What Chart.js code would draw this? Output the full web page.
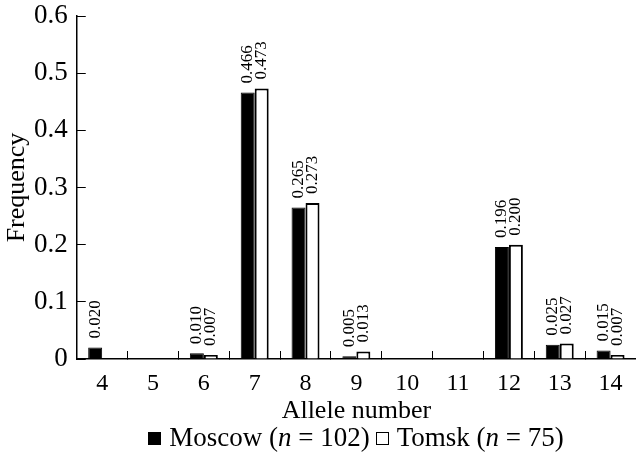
<!DOCTYPE html>
<html>
<head>
<meta charset="utf-8">
<script src="https://cdn.jsdelivr.net/npm/chart.js@4.4.1/dist/chart.umd.min.js"></script>
<style>
  body { margin: 0; background: #fff; }
  #wrap { position: relative; width: 636px; height: 454px; }
  #legend {
    position: absolute; left: 0; width: 636px; top: 422px;
    text-align: center; font-family: "Liberation Serif", serif; font-size: 27px; color: #000;
    padding-left: 76px; box-sizing: border-box; white-space: nowrap; line-height: 30px;
  }
  .box { display: inline-block; width: 13px; height: 13px; margin-right: 8px; box-sizing: border-box; vertical-align: 1px; }
  .item { margin: 0 3px; }
</style>
</head>
<body>
<div id="wrap">
  <canvas id="alleleChart" width="636" height="454"></canvas>
  <div id="legend"></div>
</div>
<script>
// Allele frequency data
const alleles = ['4', '5', '6', '7', '8', '9', '10', '11', '12', '13', '14'];
const moscow = [0.020, 0, 0.010, 0.466, 0.265, 0.005, 0, 0, 0.196, 0.025, 0.015];
const tomsk = [0, 0, 0.007, 0.473, 0.273, 0.013, 0, 0, 0.200, 0.027, 0.007];
const yTicks = [0, 0.1, 0.2, 0.3, 0.4, 0.5, 0.6];

const serif = '"Liberation Serif", "DejaVu Serif", serif';

// value labels written vertically above each bar
const barLabels = {
    id: 'barLabels',
    afterDatasetsDraw(chart) {
        const ctx = chart.ctx;
        ctx.save();
        ctx.fillStyle = '#000';
        ctx.font = '17px ' + serif;
        ctx.textAlign = 'left';
        ctx.textBaseline = 'middle';
        chart.data.datasets.forEach((ds, i) => {
            chart.getDatasetMeta(i).data.forEach((bar, j) => {
                const v = ds.data[j];
                if (!v) return;
                ctx.save();
                ctx.translate(bar.x, bar.y - 9);
                ctx.rotate(-Math.PI / 2);
                ctx.fillText(v.toFixed(3), 0, 0);
                ctx.restore();
            });
        });
        ctx.restore();
    }
};

const ctx = document.getElementById('alleleChart').getContext('2d');
const chart = new Chart(ctx, {
    type: 'bar',
    data: {
        labels: alleles,
        datasets: [{
            label: 'Moscow',
            n: 102,
            data: moscow,
            backgroundColor: '#000',
            borderColor: '#000',
            borderWidth: 1
        }, {
            label: 'Tomsk',
            n: 75,
            data: tomsk,
            backgroundColor: '#fff',
            borderColor: '#000',
            borderWidth: 2
        }]
    },
    options: {
        responsive: false,
        animation: false,
        layout: { padding: { top: 0, right: 0, bottom: 30, left: 4 } },
        plugins: {
            legend: { display: false },
            tooltip: { enabled: false }
        },
        datasets: { bar: { barPercentage: 1, categoryPercentage: 0.55 } },
        scales: {
            x: {
                afterFit(axis) { axis.paddingLeft = 0; axis.paddingRight = 0; },
                grid: { drawOnChartArea: false, tickLength: -8, color: '#000', lineWidth: 1 },
                border: { color: '#000', width: 1.5 },
                ticks: { color: '#000', font: { family: serif, size: 24, lineHeight: 1 }, padding: 21, maxRotation: 0 },
                title: { display: true, text: 'Allele number', color: '#000', font: { family: serif, size: 26, lineHeight: 1 }, padding: { top: -19, bottom: 0 } }
            },
            y: {
                min: 0,
                max: 0.6,
                afterBuildTicks(axis) { axis.ticks = yTicks.map(v => ({ value: v })); },
                afterFit(axis) { axis.paddingTop = 16; },
                grid: { drawOnChartArea: false, tickLength: -9, color: '#000', lineWidth: 1 },
                border: { color: '#000', width: 1.5 },
                ticks: { color: '#000', font: { family: serif, size: 27, lineHeight: 1 }, padding: 18,
                         callback: v => v === 0 ? '0' : v.toFixed(1) },
                title: { display: true, text: 'Frequency', color: '#000', font: { family: serif, size: 26, lineHeight: 1 }, padding: { top: 0, bottom: -14 } }
            }
        }
    },
    plugins: [barLabels]
});

// legend with italic n
const legend = document.getElementById('legend');
chart.data.datasets.forEach(ds => {
    const item = document.createElement('span');
    item.className = 'item';
    const box = document.createElement('span');
    box.className = 'box';
    box.style.background = ds.backgroundColor;
    box.style.border = '1.5px solid ' + ds.borderColor;
    item.appendChild(box);
    item.appendChild(document.createTextNode(ds.label + ' ('));
    const n = document.createElement('i');
    n.textContent = 'n';
    item.appendChild(n);
    item.appendChild(document.createTextNode(' = ' + ds.n + ')'));
    legend.appendChild(item);
});
</script>
</body>
</html>
